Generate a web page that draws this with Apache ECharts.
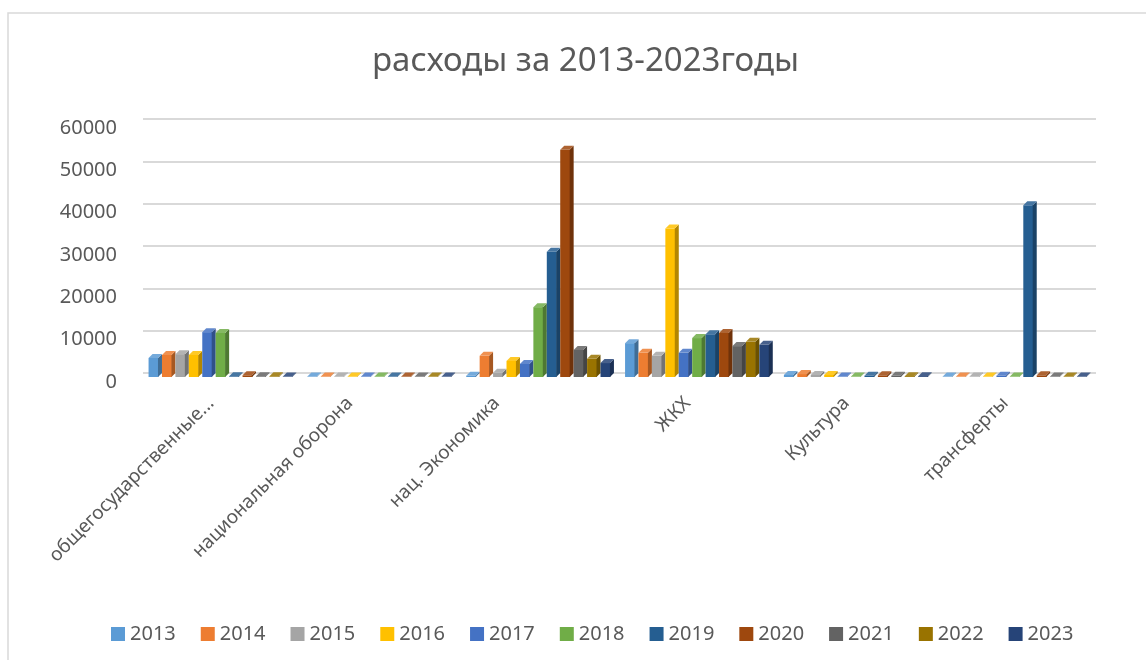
<!DOCTYPE html>
<html><head><meta charset="utf-8">
<script src="https://cdn.jsdelivr.net/npm/echarts@6/dist/echarts.min.js"></script>
<style>html,body{margin:0;padding:0;background:#fff;}#c{width:1146px;height:660px;}</style>
</head><body><div id="c"></div>
<script>
const categories = ['общегосударственные...', 'национальная оборона', 'нац. Экономика', 'ЖКХ', 'Культура', 'трансферты'];
const years = ['2013','2014','2015','2016','2017','2018','2019','2020','2021','2022','2023'];
const yTicks = [0, 10000, 20000, 30000, 40000, 50000, 60000];
const v2013 = [4500, 100, 300, 8000, 500, 100];
const v2014 = [5200, 100, 5000, 5700, 700, 100];
const v2015 = [5400, 100, 1000, 5000, 500, 100];
const v2016 = [5200, 100, 3800, 35100, 500, 100];
const v2017 = [10600, 100, 3100, 5700, 100, 300];
const v2018 = [10400, 100, 16500, 9200, 100, 100];
const v2019 = [150, 100, 29600, 10100, 300, 40600];
const v2020 = [400, 100, 53700, 10400, 400, 400];
const v2021 = [150, 100, 6400, 7300, 300, 100];
const v2022 = [150, 100, 4300, 8300, 200, 100];
const v2023 = [100, 100, 3300, 7600, 200, 100];
const values = [v2013, v2014, v2015, v2016, v2017, v2018, v2019, v2020, v2021, v2022, v2023];
const colors = ['#5B9BD5','#ED7D31','#A5A5A5','#FFC000','#4472C4','#70AD47','#255E91','#9E480E','#636363','#997300','#264478'];

function shade(hex, f) {
  const n = parseInt(hex.slice(1), 16);
  let r = (n >> 16) & 255, g = (n >> 8) & 255, b = n & 255;
  if (f < 0) { r = r * (1 + f); g = g * (1 + f); b = b * (1 + f); }
  else { r = r + (255 - r) * f; g = g + (255 - g) * f; b = b + (255 - b) * f; }
  return 'rgb(' + Math.round(r) + ',' + Math.round(g) + ',' + Math.round(b) + ')';
}

const N = years.length;
const D = 4;
function makeRender(si) {
  const col = colors[si];
  const side = shade(col, -0.3);
  const topc = shade(col, 0.15);
  return function (params, api) {
    const ci = api.value(0), val = api.value(1);
    const base = api.coord([ci, 0]);
    const top = api.coord([ci, val]);
    const band = api.size([1, 0])[0];
    const gw = band * 0.93;
    const bw = gw / N;
    const x0 = base[0] - gw / 2 + si * bw;
    const ty = top[1], by = base[1];
    return {
      type: 'group',
      children: [
        { type: 'rect', shape: { x: x0, y: ty + D, width: bw - D + 0.5, height: Math.max(by - ty, 0) }, style: { fill: col } },
        { type: 'polygon', shape: { points: [[x0 + bw - D, ty + D], [x0 + bw, ty], [x0 + bw, by], [x0 + bw - D, by + D]] }, style: { fill: side } },
        { type: 'polygon', shape: { points: [[x0, ty + D], [x0 + D, ty], [x0 + bw, ty], [x0 + bw - D, ty + D]] }, style: { fill: topc } }
      ]
    };
  };
}

const series = years.map((y, si) => ({
  name: y,
  type: 'custom',
  renderItem: makeRender(si),
  itemStyle: { color: colors[si] },
  encode: { x: 0, y: 1 },
  data: values[si].map((v, ci) => [ci, v])
}));

// horizontal shift (px, leftwards) of each rotated category label
const labelShift = [0, 20, 32, 0, 0, 0];
const rich = {};
labelShift.forEach((h, i) => {
  const pr = h / Math.SQRT2;
  rich['c' + i] = { fontSize: 19, color: '#595959', fontFamily: 'Noto Sans', padding: [0, 16 + pr, 2 * pr, 0] };
});

const chart = echarts.init(document.getElementById('c'));
chart.setOption({
  animation: false,
  backgroundColor: '#fff',
  textStyle: { fontFamily: 'Noto Sans' },
  graphic: [{ type: 'rect', shape: { x: 8, y: 13, width: 1200, height: 700 }, style: { fill: 'none', stroke: '#d9d9d9', lineWidth: 1.5 }, silent: true }],
  title: {
    text: 'расходы за 2013-2023годы',
    left: 367,
    top: 40,
    textStyle: { fontSize: 33, fontWeight: 'normal', color: '#595959', fontFamily: 'Noto Sans' }
  },
  legend: {
    left: 106,
    top: 619,
    itemWidth: 14,
    itemHeight: 14,
    itemGap: 25,
    icon: 'rect',
    textStyle: { fontSize: 20, color: '#595959' },
    data: years
  },
  grid: { left: 143, right: 50, top: 119, bottom: 287 },
  xAxis: {
    type: 'category',
    data: categories,
    axisLine: { show: false },
    axisTick: { show: false },
    axisLabel: {
      rotate: 45, fontSize: 19, color: '#595959', margin: 16, interval: 0,
      formatter: (v, i) => '{c' + i + '|' + v + '}',
      rich: rich
    }
  },
  yAxis: {
    type: 'value',
    min: yTicks[0],
    max: yTicks[yTicks.length - 1],
    interval: 10000,
    axisLine: { show: false },
    axisTick: { show: false },
    splitLine: { lineStyle: { color: '#d9d9d9', width: 2 } },
    axisLabel: { fontSize: 20, color: '#595959', margin: 26, verticalAlign: 'top', lineHeight: 18, formatter: v => String(v) }
  },
  series: series
});
</script></body></html>
